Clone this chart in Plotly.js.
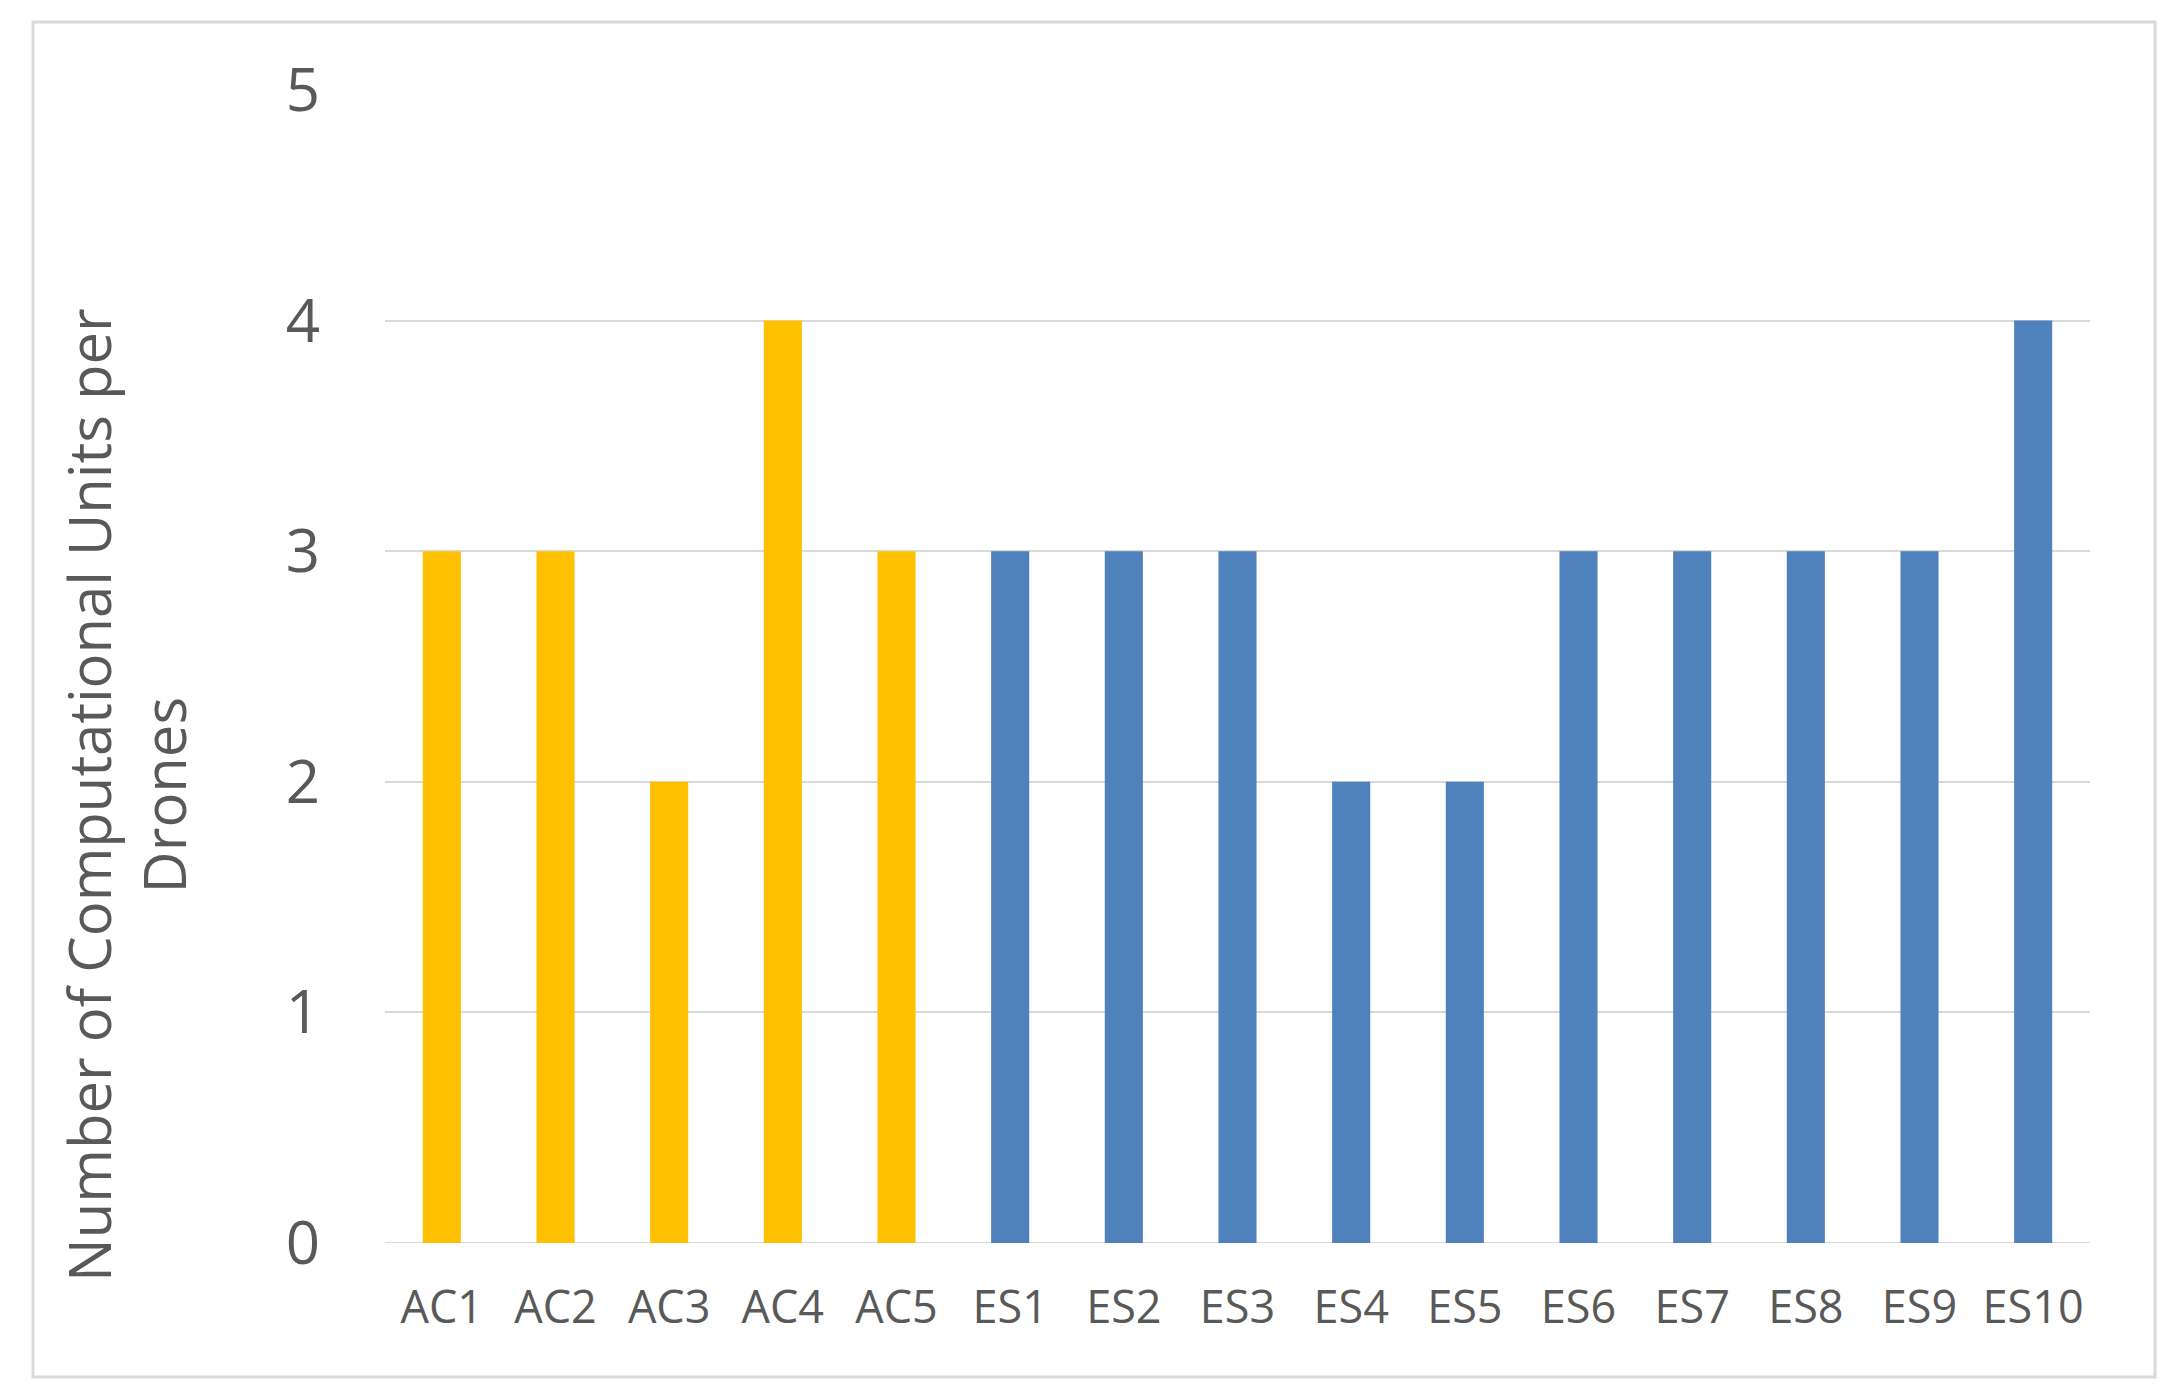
<!DOCTYPE html>
<html>
<head>
<meta charset="utf-8">
<script src="https://cdn.plot.ly/plotly-3.0.1.min.js"></script>
<style>html,body{margin:0;padding:0;background:#fff;}#chart{width:2182px;height:1397px;}</style>
</head>
<body>
<div id="chart"></div>
<script>
// Data
const acCategories = ["AC1", "AC2", "AC3", "AC4", "AC5"];
const acValues = [3, 3, 2, 4, 3];
const esCategories = ["ES1", "ES2", "ES3", "ES4", "ES5", "ES6", "ES7", "ES8", "ES9", "ES10"];
const esValues = [3, 3, 3, 2, 2, 3, 3, 3, 3, 4];
const yTickValues = [0, 1, 2, 3, 4, 5];
const yTitleLines = ["Number of Computational Units per", "Drones"];

// Layout geometry (pixels)
const W = 2182, H = 1397;
const L = 385, R = 2090, T = 90, B = 1243;
const pw = R - L, ph = B - T;
const px = x => (x - L) / pw;
const py = y => (B - y) / ph;

const textColor = "#595959";
const font = "Open Sans, sans-serif";

const traces = [
  {type: "bar", x: acCategories, y: acValues, marker: {color: "#FFC000"}, hoverinfo: "x+y"},
  {type: "bar", x: esCategories, y: esValues, marker: {color: "#4F81BD"}, hoverinfo: "x+y"}
];

const layout = {
  width: W, height: H,
  margin: {l: L, r: W - R, t: T, b: H - B, pad: 0},
  paper_bgcolor: "#ffffff",
  plot_bgcolor: "#ffffff",
  showlegend: false,
  barmode: "overlay",
  bargap: 0.665,
  font: {family: font, color: textColor},
  xaxis: {
    type: "category",
    categoryorder: "array",
    categoryarray: acCategories.concat(esCategories),
    showgrid: false,
    zeroline: false,
    showline: false,
    ticks: "",
    ticklabelstandoff: 34,
    tickfont: {family: font, size: 45, color: textColor},
    fixedrange: true
  },
  yaxis: {
    range: [0, 5],
    tickvals: yTickValues,
    ticktext: yTickValues.map(String),
    showgrid: true,
    gridcolor: "#d9d9d9",
    gridwidth: 2,
    zeroline: false,
    showline: false,
    ticks: "",
    ticklabelstandoff: 64,
    tickfont: {family: font, size: 60, color: textColor},
    fixedrange: true
  },
  annotations: [{
    xref: "paper", yref: "paper",
    x: px(126), y: py(795),
    xanchor: "center", yanchor: "middle",
    textangle: -90,
    showarrow: false,
    text: yTitleLines.join("<br>"),
    font: {family: font, size: 58, color: textColor}
  }],
  shapes: [{
    type: "rect", xref: "paper", yref: "paper",
    x0: px(33), x1: px(2155), y0: py(1377), y1: py(22),
    line: {color: "#d9d9d9", width: 3},
    fillcolor: "rgba(0,0,0,0)",
    layer: "below"
  }, {
    type: "line", xref: "paper", yref: "y",
    x0: 0, x1: 1, y0: 0, y1: 0,
    line: {color: "#d9d9d9", width: 2},
    layer: "below"
  }]
};

Plotly.newPlot("chart", traces, layout, {displayModeBar: false, staticPlot: true});
</script>
</body>
</html>
